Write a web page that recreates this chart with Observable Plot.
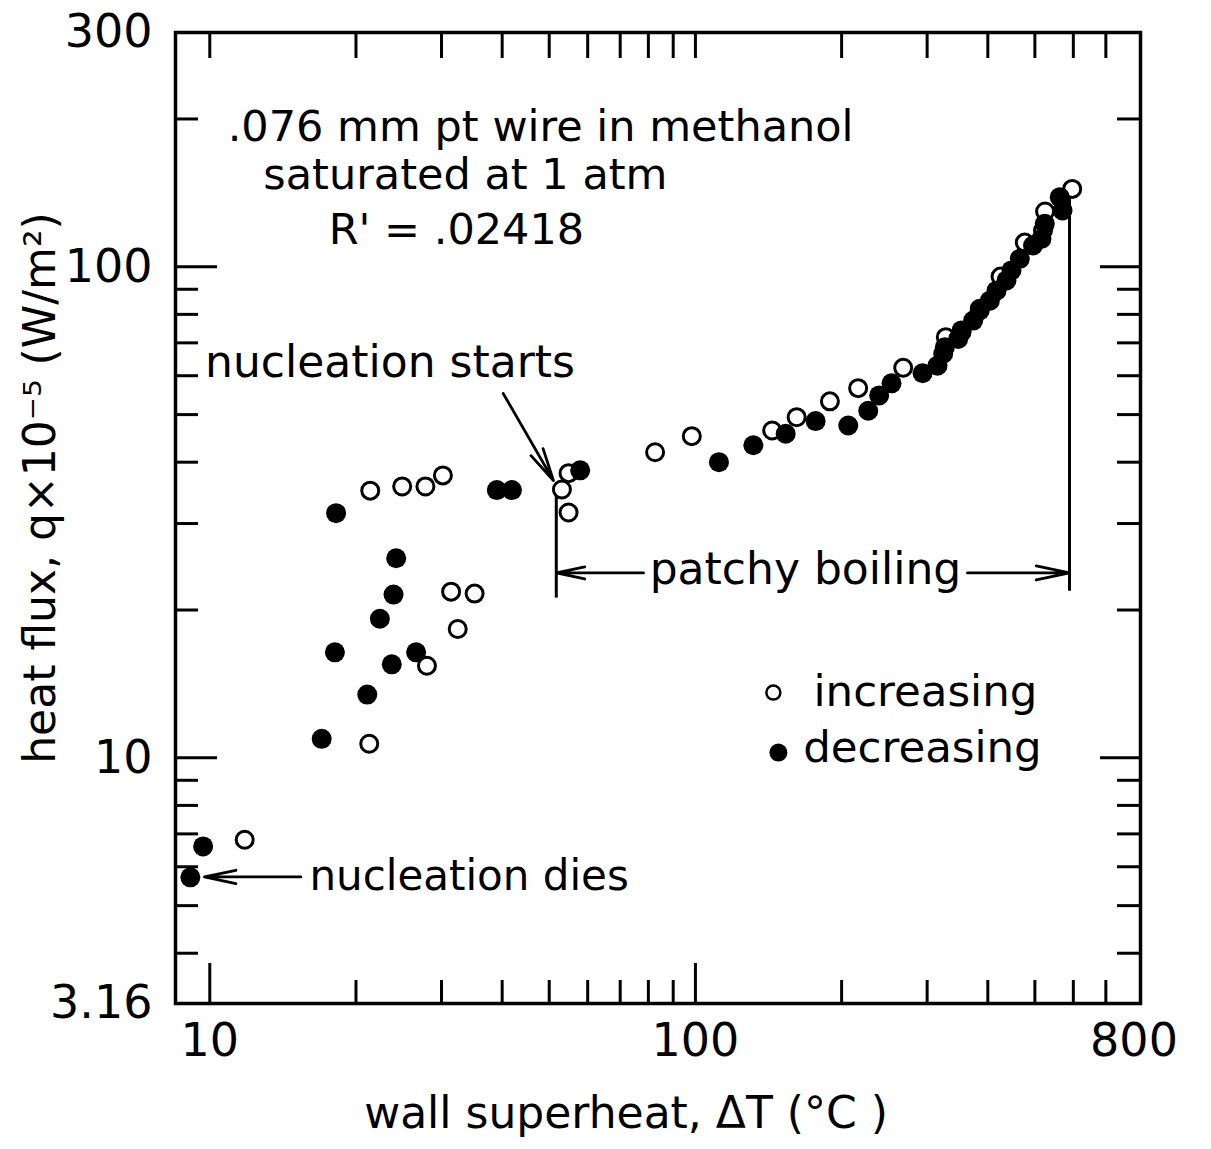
<!DOCTYPE html>
<html><head><meta charset="utf-8">
<script src="https://cdn.jsdelivr.net/npm/d3@7"></script>
<script src="https://cdn.jsdelivr.net/npm/@observablehq/plot@0.6"></script>
<style>body{margin:0;background:#fff} svg{display:block}</style>
</head><body><div id="chart"></div>
<script>
// ---- data: wall superheat ΔT (°C) vs heat flux q×10^-5 (W/m²)
const increasingDT = [11.8, 21.3, 21.4, 24.9, 27.8, 30.2, 31.4, 35.1, 32.4, 28.0, 53.1, 54.8, 54.8, 82.6, 98.3, 143.9, 161.6, 189.2, 216.3, 267.8, 327.8, 353.1, 385.0, 424.9, 476.6, 519.6, 524.8, 596.8];
const increasingQ  = [6.81, 10.68, 35.0, 35.7, 35.7, 37.6, 21.8, 21.6, 18.3, 15.4, 35.2, 38.0, 31.6, 41.9, 45.2, 46.4, 49.4, 53.2, 56.6, 62.3, 71.9, 73.6, 82.1, 95.5, 112.0, 118.5, 129.6, 144.1];
const decreasingDT = [9.12, 9.69, 17.0, 18.2, 18.1, 21.1, 22.4, 23.9, 24.2, 23.7, 26.6, 39.0, 41.9, 57.9, 111.8, 131.6, 153.4, 176.8, 206.4, 226.9, 239.0, 253.4, 293.6, 315.1, 323.7, 326.3, 347.6, 353.1, 373.2, 385.0, 403.9, 416.9, 437.0, 447.5, 465.5, 495.7, 515.9, 524.0, 562.6, 570.0];
const decreasingQ  = [5.71, 6.60, 10.93, 31.5, 16.4, 13.45, 19.2, 21.5, 25.5, 15.5, 16.4, 35.1, 35.1, 38.5, 40.0, 43.3, 45.7, 48.5, 47.5, 50.9, 54.7, 57.9, 60.7, 62.9, 66.5, 68.6, 71.3, 74.2, 77.7, 81.5, 85.3, 89.4, 93.8, 98.3, 103.8, 110.5, 114.0, 122.3, 138.6, 130.2];

// axes
const xDomain = [8.5, 825];
const yDomain = [3.16, 300];
const xTickLabels = [10, 100, 800];
const yTickLabels = [3.16, 10, 100, 300];
const xMajorTicks = [10, 100];
const xMinorTicks = [20, 30, 40, 50, 60, 70, 80, 90, 200, 300, 400, 500, 600, 700];
const yMajorTicks = [10, 100];
const yMinorTicks = [4, 5, 6, 7, 8, 9, 20, 30, 40, 50, 60, 70, 80, 90, 200];
const xLabel = "wall superheat, ΔT (°C )";
const yLabel = "heat flux, q×10⁻⁵ (W/m²)";

// annotations (data coordinates)
const noteText = [".076 mm pt wire in methanol", "saturated at 1 atm", "R' = .02418"];
const noteDT = [48.0, 33.6, 32.2];
const noteQ = [192, 153.4, 118.5];
const calloutText = ["nucleation starts", "patchy boiling", "nucleation dies"];
const calloutDT = [23.5, 168.5, 34.2];
const calloutQ = [63.8, 24.1, 5.72];
const arrowDT1 = [40.2, 78.2, 363.2, 15.4];
const arrowQ1 = [55.2, 23.8, 23.8, 5.72];
const arrowDT2 = [51.0, 51.7, 589.2, 9.75];
const arrowQ2 = [36.7, 23.8, 23.8, 5.72];
const boundDT = [51.7, 589.2];
const boundQtop = [36.0, 139.7];
const boundQbot = [21.2, 21.9];
const legendText = ["increasing", "decreasing"];
const legendMarkDT = [144.7, 148.2];
const legendMarkQ = [13.58, 10.25];
const legendTextDT = [297.6, 293.4];
const legendTextQ = [13.58, 10.49];

const inc = increasingDT.map((x, i) => ({x, y: increasingQ[i]}));
const dec = decreasingDT.map((x, i) => ({x, y: decreasingQ[i]}));
const notes = noteText.map((t, i) => ({t, x: noteDT[i], y: noteQ[i]}));
const callouts = calloutText.map((t, i) => ({t, x: calloutDT[i], y: calloutQ[i]}));
const arrows = arrowDT1.map((x1, i) => ({x1, y1: arrowQ1[i], x2: arrowDT2[i], y2: arrowQ2[i]}));
const bounds = boundDT.map((x, i) => ({x, y1: boundQbot[i], y2: boundQtop[i]}));
const legend = legendText.map((t, i) => ({t, mx: legendMarkDT[i], my: legendMarkQ[i], tx: legendTextDT[i], ty: legendTextQ[i], filled: i === 1}));

const FONT = "DejaVu Sans";
const W = 1211, H = 1149;
const mL = 175, mR = 71, mT = 32, mB = 146;
const plotH = H - mT - mB, plotW = W - mL - mR;

const chart = Plot.plot({
  width: W, height: H,
  marginLeft: mL, marginRight: mR, marginTop: mT, marginBottom: mB,
  style: {fontFamily: FONT, background: "#fff", color: "#000"},
  x: {type: "log", domain: xDomain, axis: null},
  y: {type: "log", domain: yDomain, axis: null},
  marks: [
    // ticks pointing into the frame
    Plot.tickX(xMinorTicks, {x: d => d, insetTop: plotH - 23, strokeWidth: 3}),
    Plot.tickX(xMajorTicks, {x: d => d, insetTop: plotH - 40, strokeWidth: 3}),
    Plot.tickX(xMinorTicks.concat(xMajorTicks), {x: d => d, insetBottom: plotH - 26, strokeWidth: 3}),
    Plot.tickY(yMinorTicks, {y: d => d, insetRight: plotW - 23, strokeWidth: 3}),
    Plot.tickY(yMajorTicks, {y: d => d, insetRight: plotW - 42, strokeWidth: 3}),
    Plot.tickY(yMinorTicks, {y: d => d, insetLeft: plotW - 23, strokeWidth: 3}),
    Plot.tickY(yMajorTicks, {y: d => d, insetLeft: plotW - 40, strokeWidth: 3}),
    Plot.frame({stroke: "#000", strokeWidth: 3.5}),
    Plot.text(xTickLabels, {x: d => d, frameAnchor: "bottom", lineAnchor: "middle", dy: 38, fontSize: 46, fill: "#000", text: d => String(d)}),
    Plot.text(yTickLabels, {y: d => d, frameAnchor: "left", textAnchor: "end", lineAnchor: "middle", dx: -23, fontSize: 46, fill: "#000", text: d => String(d)}),
    Plot.text([xLabel], {frameAnchor: "bottom", textAnchor: "middle", lineAnchor: "middle", dx: -32, dy: 110, fontSize: 44, fill: "#000"}),
    Plot.text([yLabel], {frameAnchor: "left", textAnchor: "middle", lineAnchor: "middle", dx: -135, dy: -30, rotate: -90, fontSize: 44, fill: "#000"}),
    // annotations
    Plot.text(notes, {x: "x", y: "y", text: "t", fontSize: 43, fill: "#000"}),
    Plot.text(callouts, {x: "x", y: "y", text: "t", fontSize: [44, 44, 42], fill: "#000"}),
    Plot.link(bounds, {x1: "x", x2: "x", y1: "y1", y2: "y2", strokeWidth: 3, stroke: "#000"}),
    Plot.arrow(arrows, {x1: "x1", y1: "y1", x2: "x2", y2: "y2", strokeWidth: 2.8, headLength: 24, headAngle: 24, stroke: "#000"}),
    // data
    Plot.dot(inc, {x: "x", y: "y", r: 8.5, stroke: "#000", strokeWidth: 3, fill: "#fff"}),
    Plot.dot(dec, {x: "x", y: "y", r: 10, fill: "#000", stroke: "none"}),
    // legend
    Plot.dot(legend.filter(d => !d.filled), {x: "mx", y: "my", r: 7, stroke: "#000", strokeWidth: 2.5, fill: "#fff"}),
    Plot.dot(legend.filter(d => d.filled), {x: "mx", y: "my", r: 9, fill: "#000"}),
    Plot.text(legend, {x: "tx", y: "ty", text: "t", fontSize: 43.5, fill: "#000"})
  ]
});
document.getElementById("chart").appendChild(chart);
</script>
</body></html>
